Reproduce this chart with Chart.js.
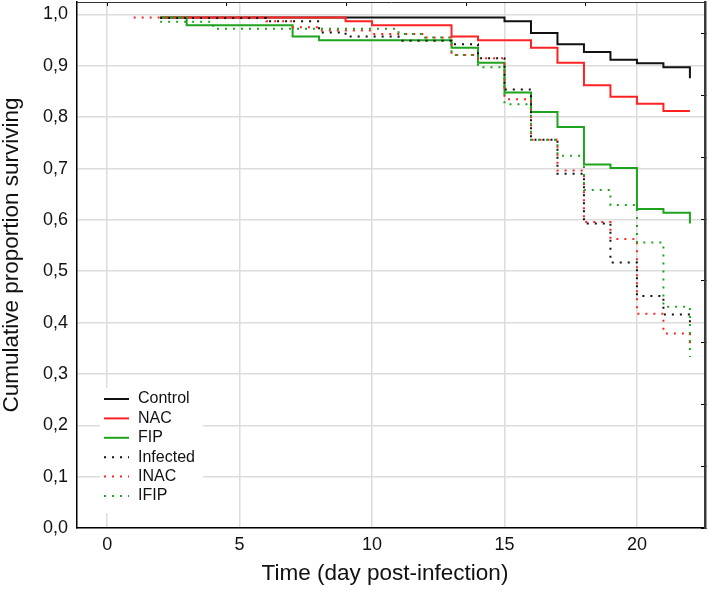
<!DOCTYPE html>
<html>
<head>
<meta charset="utf-8">
<script src="https://cdn.jsdelivr.net/npm/chart.js@4.4.1/dist/chart.umd.min.js"></script>
<style>
  body { margin: 0; background: #fff; }
  #chart { display: block; }
</style>
</head>
<body>
<canvas id="chart" width="709" height="591"></canvas>
<script>
// Kaplan-Meier steps: each value holds from its day until the next day
const controlDays = [2, 15, 16, 17, 18, 19, 20, 21, 22];
const controlSurv = [0.994, 0.987, 0.964, 0.942, 0.927, 0.912, 0.905, 0.897, 0.876];

const nacDays = [2, 9, 10, 13, 14, 16, 17, 18, 19, 20, 21, 22];
const nacSurv = [0.994, 0.987, 0.979, 0.957, 0.95, 0.935, 0.906, 0.862, 0.84, 0.826, 0.812, 0.812];

const fipDays = [2, 3, 7, 8, 13, 14, 15, 16, 17, 18, 19, 20, 21, 22];
const fipSurv = [0.994, 0.979, 0.957, 0.95, 0.935, 0.906, 0.848, 0.81, 0.781, 0.708, 0.701, 0.621, 0.614, 0.593];

const infectedDays = [2, 6, 8, 9, 11, 13, 14, 15, 16, 17, 18, 19, 20, 21, 22];
const infectedSurv = [0.993, 0.987, 0.965, 0.957, 0.949, 0.942, 0.915, 0.854, 0.756, 0.69, 0.593, 0.517, 0.452, 0.416, 0.4];

const inacDays = [1, 6, 7, 8, 10, 12, 13, 14, 15, 16, 17, 18, 19, 20, 21, 22];
const inacSurv = [0.994, 0.987, 0.975, 0.969, 0.962, 0.955, 0.921, 0.915, 0.835, 0.756, 0.696, 0.596, 0.563, 0.417, 0.379, 0.355];

const ifipDays = [2, 4, 11, 12, 13, 14, 15, 16, 17, 18, 19, 20, 21, 22];
const ifipSurv = [0.986, 0.972, 0.962, 0.955, 0.921, 0.897, 0.825, 0.756, 0.725, 0.658, 0.629, 0.556, 0.431, 0.333];

const xTicksStep = 5;
const yTicksStep = 0.1;
const xTitle = "Time (day post-infection)";
const yTitle = "Cumulative proportion surviving";

const toPoints = (days, surv) => days.map((d, i) => ({ x: d, y: surv[i] }));

const FONT = "'Liberation Sans', Arial, sans-serif";
Chart.defaults.font.family = FONT;
Chart.defaults.color = "#111";

const RED = "#ff2222";
const GREEN = "#1ea31e";
const BLACK = "#111111";
const DOTS = [2, 6];

const series = [
  { label: "Control", days: controlDays, surv: controlSurv, color: BLACK, dash: [] },
  { label: "NAC", days: nacDays, surv: nacSurv, color: RED, dash: [] },
  { label: "FIP", days: fipDays, surv: fipSurv, color: GREEN, dash: [] },
  { label: "Infected", days: infectedDays, surv: infectedSurv, color: BLACK, dash: DOTS },
  { label: "INAC", days: inacDays, surv: inacSurv, color: RED, dash: DOTS },
  { label: "IFIP", days: ifipDays, surv: ifipSurv, color: GREEN, dash: DOTS },
];

// legend box sitting in the lower left corner of the plot
const boxLegend = {
  id: "boxLegend",
  beforeDatasetsDraw(chart) {
    const { ctx, chartArea } = chart;
    const x0 = chartArea.left + 23;
    const y0 = chartArea.bottom - 140;
    ctx.save();
    ctx.fillStyle = "#fff";
    ctx.fillRect(x0, y0, 103, 125);
    ctx.font = "16px " + FONT;
    ctx.textBaseline = "middle";
    chart.data.datasets.forEach((ds, i) => {
      const y = y0 + 11 + i * 19.4;
      ctx.beginPath();
      ctx.strokeStyle = ds.borderColor;
      ctx.lineWidth = 2;
      ctx.setLineDash(ds.borderDash);
      ctx.moveTo(x0 + 4, y);
      ctx.lineTo(x0 + 29, y);
      ctx.stroke();
      ctx.fillStyle = "#111";
      ctx.fillText(ds.label, x0 + 38, y);
    });
    ctx.restore();
  },
};

// axis titles, placed like the original (not centred on the plot)
const axisTitles = {
  id: "axisTitles",
  afterDraw(chart) {
    const { ctx, chartArea } = chart;
    ctx.save();
    ctx.fillStyle = "#111";
    ctx.font = "22.5px " + FONT;
    ctx.textAlign = "center";
    ctx.textBaseline = "middle";
    ctx.fillText(xTitle, chartArea.left + 308, chartArea.bottom + 46);
    ctx.translate(12, chartArea.top + 253);
    ctx.rotate(-Math.PI / 2);
    ctx.fillText(yTitle, 0, 0);
    ctx.restore();
  },
};

const xMin = -1.14, xMax = 22.57;
const yMin = 0, yMax = 1.0243;

// keep the plot frame where the reference has it
const noEdgePadding = (s) => {
  s.paddingTop = 0;
  s.paddingBottom = 0;
  s.paddingLeft = 0;
  s.paddingRight = 0;
};

new Chart(document.getElementById("chart"), {
  type: "line",
  data: {
    datasets: series.map((s, i) => ({
      label: s.label,
      data: toPoints(s.days, s.surv),
      borderColor: s.color,
      borderDash: s.dash,
      borderWidth: 2,
      pointRadius: 0,
      stepped: true,
      fill: false,
      order: series.length - i,
    })),
  },
  options: {
    responsive: false,
    animation: false,
    devicePixelRatio: 1,
    layout: { padding: { top: 2, right: 4, left: 0, bottom: 0 } },
    plugins: {
      legend: { display: false },
      tooltip: { enabled: false },
    },
    scales: {
      x: {
        type: "linear",
        position: "bottom",
        min: xMin,
        max: xMax,
        ticks: { stepSize: xTicksStep, includeBounds: false, padding: 6, font: { size: 18 }, color: "#111" },
        grid: { color: "#dcdcdc", lineWidth: 1.5, drawTicks: false },
        border: { color: "#000", width: 1.5 },
        afterFit: (s) => { s.height = 63; noEdgePadding(s); },
      },
      y: {
        type: "linear",
        position: "left",
        min: yMin,
        max: yMax,
        ticks: {
          stepSize: yTicksStep,
          includeBounds: false,
          padding: 9,
          font: { size: 18 },
          color: "#111",
          callback: (v) => v.toFixed(1).replace(".", ","),
        },
        grid: { color: "#dcdcdc", lineWidth: 1.5, drawTicks: false },
        border: { color: "#000", width: 1.5 },
        afterFit: (s) => { s.width = 77; noEdgePadding(s); },
      },
      x2: {
        type: "linear",
        position: "top",
        min: xMin,
        max: xMax,
        ticks: { display: false, stepSize: 4.516, includeBounds: false },
        grid: { drawOnChartArea: false, drawTicks: true, tickLength: -4, tickColor: "#000", tickWidth: 1 },
        border: { color: "#333", width: 1 },
        afterFit: (s) => { s.height = 0; noEdgePadding(s); },
      },
      y2: {
        type: "linear",
        position: "right",
        min: yMin,
        max: yMax,
        ticks: { display: false, stepSize: 0.1203, includeBounds: false },
        grid: { drawOnChartArea: false, drawTicks: true, tickLength: -4, tickColor: "#000", tickWidth: 1 },
        border: { color: "#3a3a3a", width: 2.5 },
        afterFit: (s) => { s.width = 0; noEdgePadding(s); },
      },
    },
  },
  plugins: [boxLegend, axisTitles],
});
</script>
</body>
</html>
